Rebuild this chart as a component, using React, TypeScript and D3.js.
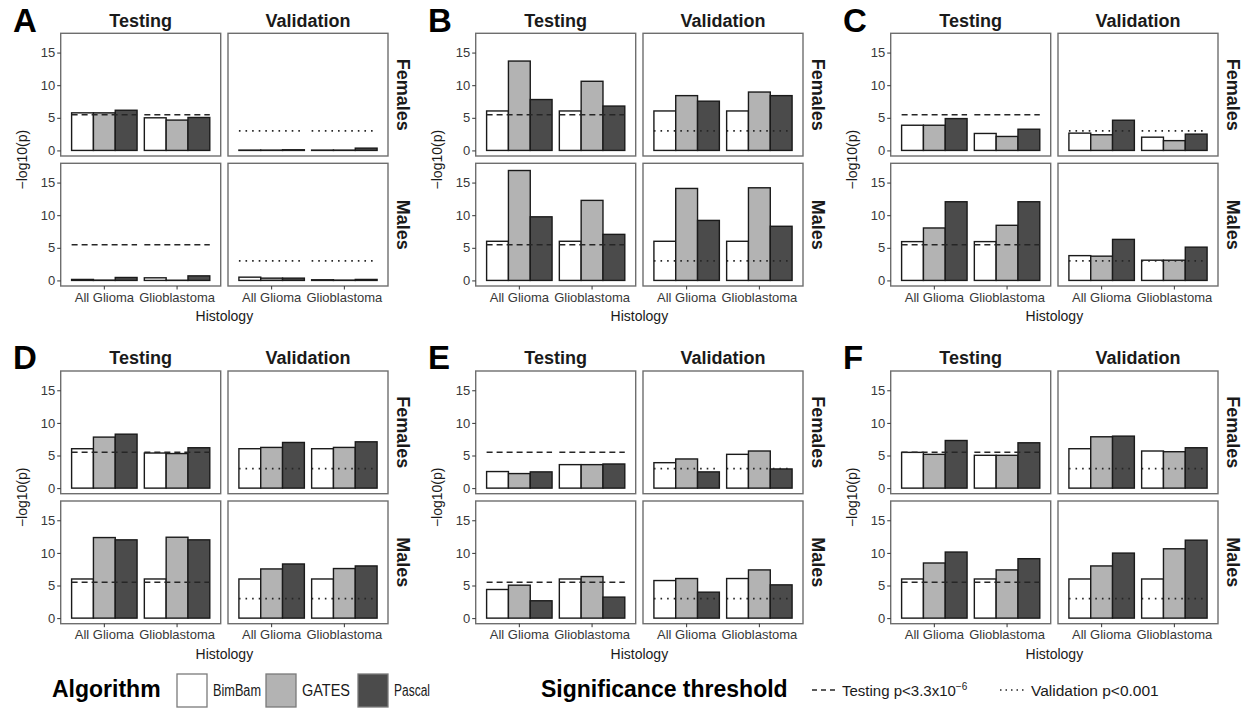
import React, { useEffect, useRef } from 'react';
import * as d3 from 'd3';

const panelLetters = ["A", "B", "C", "D", "E", "F"];
const splits = ["Testing", "Validation"];
const sexes = ["Females", "Males"];
const histologies = ["All Glioma", "Glioblastoma"];
const algorithms = ["BimBam", "GATES", "Pascal"];
const algorithmColors = ["#ffffff", "#b3b3b3", "#4b4b4b"];

// -log10(p), one row per facet: Females/Testing, Females/Validation, Males/Testing, Males/Validation
// each row: All Glioma (BimBam, GATES, Pascal), Glioblastoma (BimBam, GATES, Pascal)
const valuesA = [
  [5.76, 5.76, 6.16, 5.0, 4.65, 5.05],
  [0.05, 0.05, 0.1, 0.05, 0.05, 0.35],
  [0.15, 0.05, 0.45, 0.4, 0.03, 0.7],
  [0.5, 0.35, 0.35, 0.1, 0.05, 0.15],
];
const valuesB = [
  [6.05, 13.7, 7.8, 6.05, 10.6, 6.8],
  [6.05, 8.4, 7.55, 6.05, 8.95, 8.4],
  [6.0, 16.85, 9.75, 6.0, 12.27, 7.06],
  [6.0, 14.1, 9.2, 6.0, 14.2, 8.3],
];
const valuesC = [
  [3.86, 3.86, 4.88, 2.6, 2.14, 3.25],
  [2.65, 2.4, 4.63, 2.03, 1.5, 2.5],
  [5.95, 8.04, 12.06, 5.95, 8.45, 12.06],
  [3.8, 3.72, 6.29, 3.1, 3.1, 5.1],
];
const valuesD = [
  [6.04, 7.82, 8.27, 5.38, 5.3, 6.19],
  [6.04, 6.24, 7.0, 6.04, 6.24, 7.1],
  [6.0, 12.35, 12.0, 6.0, 12.4, 12.0],
  [6.0, 7.54, 8.3, 6.0, 7.6, 8.0],
];
const valuesE = [
  [2.54, 2.23, 2.49, 3.6, 3.6, 3.7],
  [3.9, 4.47, 2.49, 5.18, 5.69, 2.94],
  [4.39, 5.05, 2.66, 6.0, 6.37, 3.22],
  [5.76, 6.07, 3.98, 6.07, 7.39, 5.1],
];
const valuesF = [
  [5.48, 5.18, 7.3, 5.03, 5.03, 6.95],
  [6.04, 7.87, 7.97, 5.69, 5.58, 6.19],
  [6.0, 8.45, 10.13, 6.0, 7.39, 9.11],
  [6.0, 8.0, 9.97, 6.0, 10.63, 11.95],
];
const panelValues = [valuesA, valuesB, valuesC, valuesD, valuesE, valuesF];

const testingThreshold = -Math.log10(3.3e-6);
const validationThreshold = 3;
const yTicks = [0, 5, 10, 15];

const FONT = "Arial, 'Liberation Sans', Helvetica, sans-serif";

const App = () => {
  const svgRef = useRef(null);

  useEffect(() => {
    if (!svgRef.current) return;
    const width = 1249;
    const height = 711;
    const svg = d3.select(svgRef.current);
    svg.selectAll("*").remove();
    svg.attr("width", width).attr("height", height);

    svg.append("rect").attr("width", width).attr("height", height).attr("fill", "#fff");

    // facet geometry (inside one panel)
    const facetX0 = 60.7;
    const facetW = 160;
    const gapX = 7.3;
    const facetY0 = 33.3;
    const facetH = 122.7;
    const gapY = 7.3;
    const colOffsets = [0, 415, 830];
    const rowOffsets = [0, 337.7];

    // y: data max 17.1 with ggplot 5% expansion
    const yMax = 17.1;
    const yScale = d3.scaleLinear()
      .domain([-0.05 * yMax, yMax * 1.05])
      .range([facetH, 0]);

    const xScale = d3.scaleBand()
      .domain(histologies)
      .range([0, facetW])
      .paddingInner(0.1)
      .paddingOuter(0.15);

    const algScale = d3.scaleBand()
      .domain(algorithms)
      .range([0, xScale.bandwidth()]);

    const color = d3.scaleOrdinal().domain(algorithms).range(algorithmColors);

    panelLetters.forEach((letter, p) => {
      const ox = colOffsets[p % 3];
      const oy = rowOffsets[Math.floor(p / 3)];
      const panel = svg.append("g").attr("transform", `translate(${ox}, ${oy})`);
      const values = panelValues[p];

      // panel letter
      panel.append("text")
        .attr("x", 13)
        .attr("y", 31.5)
        .attr("font-family", FONT)
        .attr("font-size", "33px")
        .attr("font-weight", "bold")
        .attr("fill", "#000")
        .text(letter);

      // column strips
      splits.forEach((split, c) => {
        panel.append("text")
          .attr("x", facetX0 + c * (facetW + gapX) + facetW / 2)
          .attr("y", 26.5)
          .attr("text-anchor", "middle")
          .attr("font-family", FONT)
          .attr("font-size", "18px")
          .attr("font-weight", "bold")
          .attr("fill", "#1a1a1a")
          .text(split);
      });

      // row strips
      sexes.forEach((sex, r) => {
        const cy = facetY0 + r * (facetH + gapY) + facetH / 2;
        const cx = facetX0 + 2 * facetW + gapX + 9;
        panel.append("text")
          .attr("transform", `translate(${cx}, ${cy}) rotate(90)`)
          .attr("text-anchor", "middle")
          .attr("font-family", FONT)
          .attr("font-size", "18px")
          .attr("font-weight", "bold")
          .attr("fill", "#1a1a1a")
          .text(sex);
      });

      // y axis title
      panel.append("text")
        .attr("transform", `translate(27, ${facetY0 + facetH + gapY / 2}) rotate(-90)`)
        .attr("text-anchor", "middle")
        .attr("font-family", FONT)
        .attr("font-size", "14px")
        .attr("fill", "#1a1a1a")
        .text("\u2212log10(p)");

      // x axis title
      panel.append("text")
        .attr("x", facetX0 + facetW + gapX / 2)
        .attr("y", 321)
        .attr("text-anchor", "middle")
        .attr("font-family", FONT)
        .attr("font-size", "14px")
        .attr("fill", "#1a1a1a")
        .text("Histology");

      sexes.forEach((sex, r) => {
        splits.forEach((split, c) => {
          const fx = facetX0 + c * (facetW + gapX);
          const fy = facetY0 + r * (facetH + gapY);
          const g = panel.append("g").attr("transform", `translate(${fx}, ${fy})`);
          const row = values[r * 2 + c];

          const data = [];
          histologies.forEach((h, hi) => {
            algorithms.forEach((a, ai) => {
              data.push({ hist: h, alg: a, value: row[hi * 3 + ai] });
            });
          });

          // bars
          g.selectAll(".bar")
            .data(data)
            .enter()
            .append("rect")
            .attr("class", "bar")
            .attr("x", d => xScale(d.hist) + algScale(d.alg))
            .attr("y", d => yScale(d.value))
            .attr("width", algScale.bandwidth())
            .attr("height", d => yScale(0) - yScale(d.value))
            .attr("fill", d => color(d.alg))
            .attr("stroke", "#1a1a1a")
            .attr("stroke-width", 1.4);

          // threshold segments
          const thr = split === "Testing" ? testingThreshold : validationThreshold;
          histologies.forEach(h => {
            g.append("line")
              .attr("x1", xScale(h))
              .attr("x2", xScale(h) + xScale.bandwidth())
              .attr("y1", yScale(thr))
              .attr("y2", yScale(thr))
              .attr("stroke", "#262626")
              .attr("stroke-width", split === "Testing" ? 1.5 : 1.8)
              .attr("stroke-dasharray", split === "Testing" ? "6,4" : "1.6,5");
          });

          // panel border
          g.append("rect")
            .attr("width", facetW)
            .attr("height", facetH)
            .attr("fill", "none")
            .attr("stroke", "#6e6e6e")
            .attr("stroke-width", 1.4);

          // y axis on first column
          if (c === 0) {
            const ya = g.append("g")
              .call(d3.axisLeft(yScale).tickValues(yTicks).tickSize(3.5).tickPadding(2));
            ya.select(".domain").remove();
            ya.selectAll(".tick line").attr("stroke", "#333");
            ya.selectAll("text")
              .attr("font-family", FONT)
              .attr("font-size", "13px")
              .attr("fill", "#383838");
          }

          // x axis on bottom row
          if (r === 1) {
            const xa = g.append("g")
              .attr("transform", `translate(0, ${facetH})`)
              .call(d3.axisBottom(xScale).tickSize(3.5).tickPadding(3));
            xa.select(".domain").remove();
            xa.selectAll(".tick line").attr("stroke", "#333");
            xa.selectAll("text")
              .attr("font-family", FONT)
              .attr("font-size", "13px")
              .attr("fill", "#383838");
          }
        });
      });
    });

    // legend
    const legend = svg.append("g");
    const ly = 697;
    legend.append("text")
      .attr("x", 52)
      .attr("y", ly)
      .attr("font-family", FONT)
      .attr("font-size", "23px")
      .attr("font-weight", "bold")
      .attr("fill", "#000")
      .text("Algorithm");

    const keyX = [177, 266, 358];
    const labelLengths = [48, 48, 36];
    algorithms.forEach((a, i) => {
      legend.append("rect")
        .attr("x", keyX[i])
        .attr("y", 674)
        .attr("width", 30)
        .attr("height", 33)
        .attr("fill", color(a))
        .attr("stroke", "#7a7a7a")
        .attr("stroke-width", 1.3);
      legend.append("text")
        .attr("x", keyX[i] + 36)
        .attr("y", ly - 1)
        .attr("font-family", FONT)
        .attr("font-size", "16px")
        .attr("textLength", labelLengths[i])
        .attr("lengthAdjust", "spacingAndGlyphs")
        .attr("fill", "#1a1a1a")
        .text(a);
    });

    legend.append("text")
      .attr("x", 541)
      .attr("y", ly)
      .attr("font-family", FONT)
      .attr("font-size", "23px")
      .attr("font-weight", "bold")
      .attr("fill", "#000")
      .text("Significance threshold");

    legend.append("line")
      .attr("x1", 812).attr("x2", 836)
      .attr("y1", 690).attr("y2", 690)
      .attr("stroke", "#262626")
      .attr("stroke-width", 1.5)
      .attr("stroke-dasharray", "5,4");
    const t1 = legend.append("text")
      .attr("x", 842)
      .attr("y", ly - 1)
      .attr("font-family", FONT)
      .attr("font-size", "15px")
      .attr("fill", "#1a1a1a")
      .text("Testing p<3.3x10");
    t1.append("tspan")
      .attr("dy", -6)
      .attr("font-size", "10px")
      .text("\u22126");

    legend.append("line")
      .attr("x1", 1000).attr("x2", 1024)
      .attr("y1", 690).attr("y2", 690)
      .attr("stroke", "#262626")
      .attr("stroke-width", 1.5)
      .attr("stroke-dasharray", "1.5,4");
    legend.append("text")
      .attr("x", 1031)
      .attr("y", ly - 1)
      .attr("font-family", FONT)
      .attr("font-size", "15.5px")
      .attr("fill", "#1a1a1a")
      .text("Validation p<0.001");
  }, []);

  return (
    <div style={{ position: "absolute", left: 0, top: 0 }}>
      <svg ref={svgRef} style={{ display: "block" }}></svg>
    </div>
  );
};

export default App;
